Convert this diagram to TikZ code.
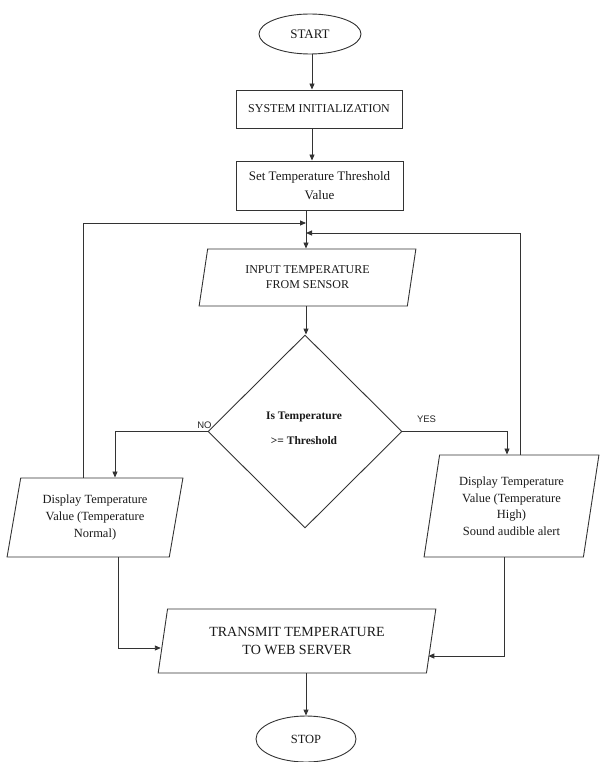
\documentclass[tikz,border=0pt]{standalone}
\usepackage{fontspec}
\setmainfont{Liberation Serif}
\newfontfamily\lblfont{Liberation Sans}
\usetikzlibrary{shapes.geometric,arrows.meta,calc}
\begin{document}
\begin{tikzpicture}[x=1pt,y=-1pt,
 lin/.style={draw=black!80, line width=0.9pt},
 arr/.style={lin, -{Triangle[length=6pt,width=5pt]}},
 term/.style={ellipse, lin, inner sep=0pt, text=black!90},
 proc/.style={rectangle, lin, inner sep=0pt, align=center, text=black!90},
 io/.style={trapezium, trapezium stretches=true, lin, inner sep=0pt, align=center, text=black!90},
 dec/.style={diamond, lin, inner sep=0pt},
 dtxt/.style={inner sep=0pt, align=center, text=black!90, font=\bfseries\fontsize{11.5}{13}\selectfont},
 lbl/.style={inner sep=0pt, text=black!85, font=\lblfont\fontsize{9.5}{11}\selectfont}
]
\useasboundingbox (0,0) rectangle (599,762);

\node[term, minimum width=102pt, minimum height=40pt, font=\fontsize{13}{15}\selectfont] (start) at (310,34) {START};
\node[proc, minimum width=166pt, minimum height=38pt, font=\fontsize{12}{14}\selectfont] (sys) at (319,109) {SYSTEM INITIALIZATION};
\node[proc, minimum width=167pt, minimum height=49pt, font=\fontsize{13}{19}\selectfont] (set) at (319.5,185.5) {Set Temperature Threshold\\Value};
\node[io, trapezium left angle=77, trapezium right angle=103, minimum width=217pt, minimum height=57pt, font=\fontsize{12}{15}\selectfont] (inp) at (307.5,277.5) {INPUT TEMPERATURE\\FROM SENSOR};
\node[dec, minimum width=194pt, minimum height=193pt] (dia) at (305,431.5) {};
\node[dtxt] (dtext) at (304,428) {Is Temperature\\[12pt]>= Threshold};
\node[io, trapezium left angle=78, trapezium right angle=102, minimum width=176pt, minimum height=79pt, font=\fontsize{12.5}{17}\selectfont] (lft) at (95,517.5) {Display Temperature\\Value (Temperature\\Normal)};
\node[io, trapezium left angle=79, trapezium right angle=101, minimum width=175pt, minimum height=102pt, font=\fontsize{12.5}{16.5}\selectfont] (rgt) at (511.5,506) {Display Temperature\\Value (Temperature\\High)\\Sound audible alert};
\node[io, trapezium left angle=77, trapezium right angle=103, minimum width=278pt, minimum height=64pt, font=\fontsize{14}{18}\selectfont] (tx) at (297,641) {TRANSMIT TEMPERATURE\\TO WEB SERVER};
\node[term, minimum width=100pt, minimum height=46pt, font=\fontsize{12.5}{14}\selectfont] (stop) at (306,739) {STOP};

\node[lbl, anchor=base] (no) at (204.5,428) {NO};
\node[lbl, anchor=base] (yes) at (426.5,422) {YES};

\coordinate (jL) at (306,223);
\coordinate (jR) at (306,233);
\coordinate (kL) at (83,0);
\coordinate (kR) at (520,0);
\coordinate (kNo) at (115,0);
\coordinate (kYes) at (507,0);
\coordinate (kLb) at (118,0);
\coordinate (kRb) at (504,0);
\coordinate (kTop) at (312,0);

\draw[arr] (start.south -| kTop) -- (sys.north -| kTop);
\draw[arr] (sys.south -| kTop) -- (set.north -| kTop);
\draw[arr] (set.south -| jL) -- (inp.north -| jL);
\draw[arr] (inp.south -| jL) -- (dia.north -| jL);
\draw[arr] (lft.north -| kL) |- (jL);
\draw[arr] (rgt.north -| kR) |- (jR);
\draw[arr] (dia.west) -| (lft.north -| kNo);
\draw[arr] (dia.east) -| (rgt.north -| kYes);
\draw[arr] (lft.south -| kLb) |- ($(tx.west)+(-1.6,7)$);
\draw[arr] (rgt.south -| kRb) |- ($(tx.east)+(-3.3,15)$);
\draw[arr] (stop.north |- tx.south) -- (stop.north);
\end{tikzpicture}
\end{document}
